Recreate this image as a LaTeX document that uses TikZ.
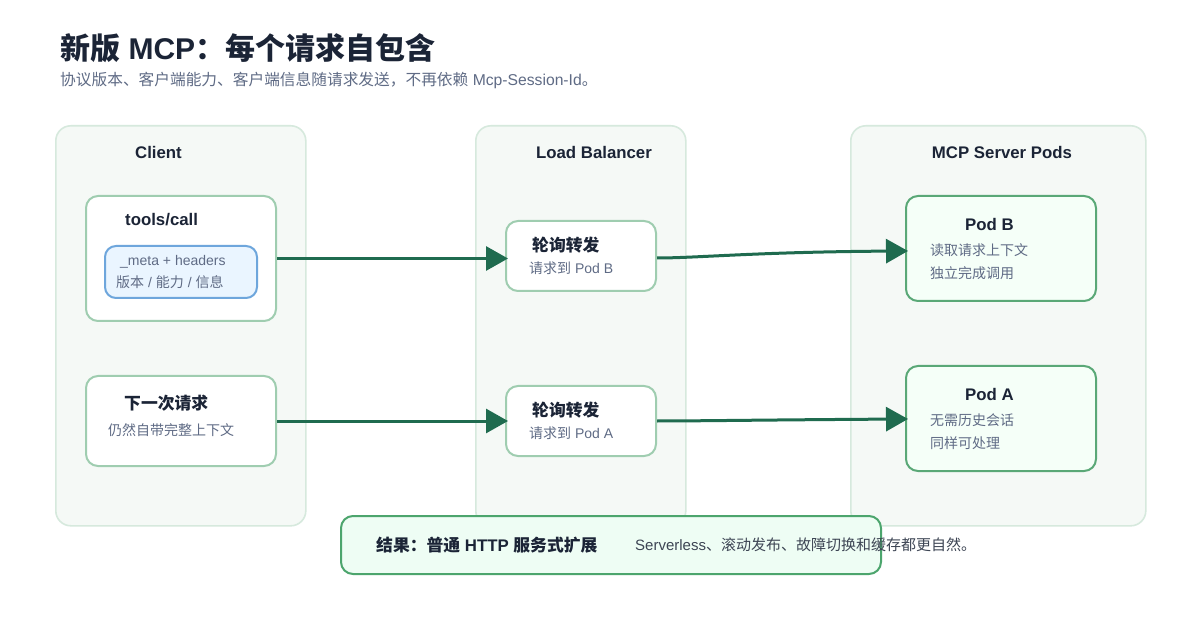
\documentclass[tikz,border=0pt]{standalone}
\usepackage{fontspec}
\setmainfont{Liberation Sans}
\newfontfamily\cjk{Noto Sans CJK SC}
\newcommand\zh[1]{{\cjk #1}}
\usetikzlibrary{arrows.meta}
\definecolor{ink}{HTML}{1B2436}
\definecolor{muted}{HTML}{5F6B85}
\definecolor{colfill}{HTML}{F5F9F6}
\definecolor{colstroke}{HTML}{D6E9DD}
\definecolor{cardstroke}{HTML}{9FCDB0}
\definecolor{podstroke}{HTML}{5AA877}
\definecolor{podfill}{HTML}{F5FFF8}
\definecolor{metafill}{HTML}{EAF5FF}
\definecolor{metastroke}{HTML}{6EA6DC}
\definecolor{resfill}{HTML}{EEFDF4}
\definecolor{resstroke}{HTML}{4CA56D}
\definecolor{flowc}{HTML}{1F6B4F}
\tikzset{
  col/.style={draw=colstroke, line width=1.6pt, fill=colfill, rounded corners=15pt, anchor=north west, inner sep=0},
  card/.style={draw=cardstroke, line width=2pt, fill=white, rounded corners=12pt, anchor=north west, inner sep=0},
  podbox/.style={draw=podstroke, line width=2pt, fill=podfill, rounded corners=12pt, anchor=north west, inner sep=0},
  metabox/.style={draw=metastroke, line width=2pt, fill=metafill, rounded corners=11pt, anchor=north west, inner sep=0},
  resbox/.style={draw=resstroke, line width=2pt, fill=resfill, rounded corners=12pt, anchor=north west, inner sep=0},
  lbl/.style={font=\fontsize{16.8}{20}\selectfont\bfseries, text=ink, inner sep=0},
  small/.style={font=\fontsize{14}{17}\selectfont, text=muted, inner sep=0, anchor=west},
  flow/.style={draw=flowc, line width=3pt, -{Triangle[length=22pt,width=24pt]}, shorten >=-3pt}
}
\begin{document}
\begin{tikzpicture}[x=1pt,y=-1pt]
\useasboundingbox (0,0) rectangle (1200,620);
\fill[white] (0,0) rectangle (1200,620);

% title
\node[anchor=west, inner sep=0, text=ink, font=\fontsize{30}{35}\selectfont\bfseries] (title) at (60,48) {\zh{新版} MCP\zh{：每个请求自包含}};
\node[anchor=west, inner sep=0, text=muted, font=\fontsize{15.7}{19}\selectfont] (subtitle) at (60,80) {\zh{协议版本、客户端能力、客户端信息随请求发送，不再依赖} Mcp-Session-Id\zh{。}};

% columns
\node[col, minimum width=250pt, minimum height=400pt] (client) at (55,125) {};
\node[col, minimum width=210pt, minimum height=400pt] (lb) at (475,125) {};
\node[col, minimum width=295pt, minimum height=400pt] (srv) at (850,125) {};
\node[lbl] (clientlbl) at (158.5,152) {Client};
\node[lbl] (lblbl) at (594,152) {Load Balancer};
\node[lbl] (srvlbl) at (1002,152) {MCP Server Pods};

% client cards
\node[card, minimum width=190pt, minimum height=125pt] (tools) at (85,195) {};
\node[lbl, anchor=west] (toolslbl) at (125,220) {tools/call};
\node[metabox, minimum width=152pt, minimum height=52pt] (meta) at (104,245) {};
\node[small] (meta1) at (120,262) {\_meta + headers};
\node[small] (meta2) at (116,282) {\zh{版本} / \zh{能力} / \zh{信息}};

\node[card, minimum width=190pt, minimum height=90pt] (next) at (85,375) {};
\node[lbl, anchor=west] (nextlbl) at (124,403) {\zh{下一次请求}};
\node[small] (next1) at (108,430) {\zh{仍然自带完整上下文}};

% load balancer cards
\node[card, minimum width=150pt, minimum height=70pt] (lbB) at (505,220) {};
\node[lbl, anchor=west] (lbBlbl) at (532,245) {\zh{轮询转发}};
\node[small] (lbB1) at (529,268) {\zh{请求到} Pod B};

\node[card, minimum width=150pt, minimum height=70pt] (lbA) at (505,385) {};
\node[lbl, anchor=west] (lbAlbl) at (532,410) {\zh{轮询转发}};
\node[small] (lbA1) at (529,433) {\zh{请求到} Pod A};

% pods
\node[podbox, minimum width=190pt, minimum height=105pt] (podB) at (905,195) {};
\node[lbl] (podBlbl) at (989.5,224) {Pod B};
\node[small] (podB1) at (930,250) {\zh{读取请求上下文}};
\node[small] (podB2) at (930,273) {\zh{独立完成调用}};

\node[podbox, minimum width=190pt, minimum height=105pt] (podA) at (905,365) {};
\node[lbl] (podAlbl) at (989.5,394) {Pod A};
\node[small] (podA1) at (930,420) {\zh{无需历史会话}};
\node[small] (podA2) at (930,443) {\zh{同样可处理}};

% connectors
\draw[flow] (tools.east) -- (tools.east -| lbB.west);
\draw[flow] (next.east) -- (next.east -| lbA.west);
\draw[flow] ([yshift=-2pt]lbB.east) .. controls +(40,0) and +(-150,1) .. ([yshift=-2.5pt]podB.west);
\draw[flow] (lbA.east) .. controls +(40,0) and +(-150,1) .. ([yshift=-0.5pt]podA.west);

% result
\node[resbox, minimum width=540pt, minimum height=58pt] (res) at (340,515) {};
\node[lbl, anchor=west] (reslbl) at (376,545) {\zh{结果：普通} HTTP \zh{服务式扩展}};
\node[anchor=west, inner sep=0, text=ink!85, font=\fontsize{15}{18}\selectfont] (restxt) at (635,545) {Serverless\zh{、滚动发布、故障切换和缓存都更自然。}};
\end{tikzpicture}
\end{document}
